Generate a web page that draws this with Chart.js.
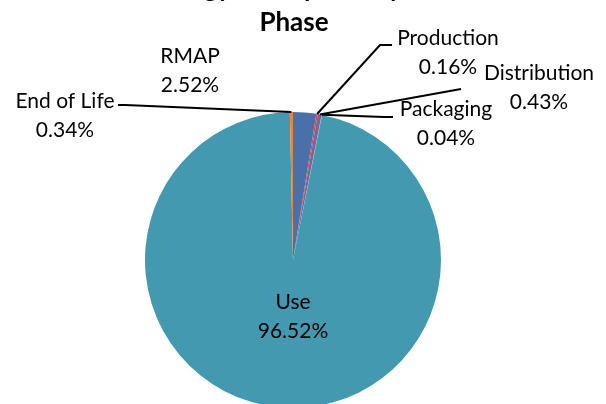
<!DOCTYPE html>
<html>
<head>
  <meta charset="UTF-8">
  <script src="https://cdn.jsdelivr.net/npm/chart.js"></script>
  <style>
    body { margin: 0; background: white; overflow: hidden; }
    .chart-container { position: relative; width: 606px; height: 410px; }
  </style>
</head>
<body>
  <div class="chart-container">
    <canvas id="phaseChart"></canvas>
  </div>

  <script>
    // Data
    const titleLines = ['Energy Use by Life Cycle', 'Phase'];
    const phases = ['RMAP', 'Production', 'Distribution', 'Packaging', 'Use', 'End of Life'];
    const shares = [2.52, 0.16, 0.43, 0.04, 96.52, 0.34];
    const colors = ['#4A70A9', '#C0504D', '#7E62A0', '#9BBB59', '#4299B0', '#E8853A'];

    // label placement (label centre, leader end, short horizontal end)
    const labelSpots = [
      { x: 190, y: 56, line: null },
      { x: 448, y: 38, line: [[380, 45], [392, 45]] },
      { x: 539, y: 73, line: [[461, 89]] },
      { x: 446, y: 109, line: [[384, 117], [393, 117]] },
      { x: 293, y: 302, line: null },
      { x: 65, y: 101, line: [[125, 105], [118, 105]] }
    ];

    const labelPlugin = {
      id: 'phaseLabels',
      afterDraw(chart) {
        const ctx = chart.ctx;
        const arcs = chart.getDatasetMeta(0).data;
        ctx.save();
        // title, first line runs off the top
        ctx.fillStyle = '#000';
        ctx.textAlign = 'center';
        ctx.textBaseline = 'alphabetic';
        ctx.font = 'bold 26px Lato';
        ctx.fillText(titleLines[0], 293, -3);
        ctx.fillText(titleLines[1], 294, 31);

        ctx.font = '21px Lato';
        ctx.textBaseline = 'middle';
        arcs.forEach((arc, i) => {
          const spot = labelSpots[i];
          ctx.fillText(phases[i], spot.x, spot.y);
          ctx.fillText(shares[i].toFixed(2) + '%', spot.x, spot.y + 29);
          if (spot.line) {
            const mid = (arc.startAngle + arc.endAngle) / 2;
            ctx.beginPath();
            ctx.moveTo(arc.x + Math.cos(mid) * arc.outerRadius, arc.y + Math.sin(mid) * arc.outerRadius);
            spot.line.forEach(p => ctx.lineTo(p[0], p[1]));
            ctx.strokeStyle = '#000';
            ctx.lineWidth = 2;
            ctx.stroke();
          }
        });
        ctx.restore();
      }
    };

    new Chart(document.getElementById('phaseChart'), {
      type: 'pie',
      data: {
        labels: phases,
        datasets: [{
          data: shares,
          backgroundColor: colors,
          borderWidth: 0
        }]
      },
      options: {
        responsive: true,
        maintainAspectRatio: false,
        animation: false,
        layout: { padding: { left: 145, right: 165, top: 112, bottom: 2 } },
        plugins: {
          legend: { display: false },
          tooltip: { enabled: false }
        }
      },
      plugins: [labelPlugin]
    });
  </script>
</body>
</html>
